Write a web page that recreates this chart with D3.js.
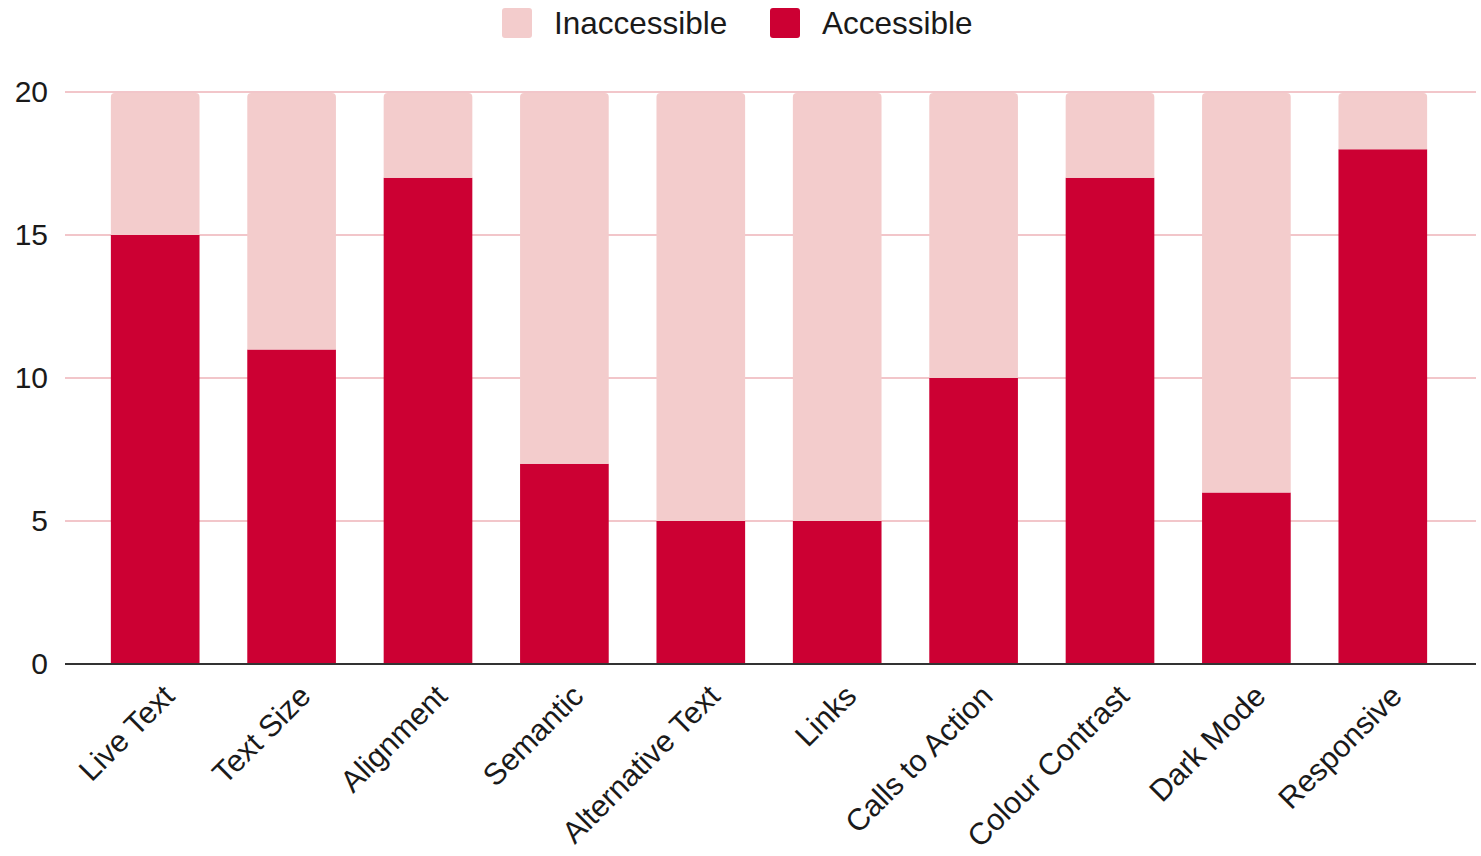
<!DOCTYPE html>
<html>
<head>
<meta charset="utf-8">
<script src="https://cdn.jsdelivr.net/npm/d3@7"></script>
<style>
  html, body { margin: 0; padding: 0; background: #fff; }
  svg { display: block; font-family: "Liberation Sans", Arial, sans-serif; }
</style>
</head>
<body>
<svg id="chart" width="1481" height="856"></svg>
<script>
// Accessibility audit results per criterion (out of 20 emails)
const categories = ["Live Text", "Text Size", "Alignment", "Semantic", "Alternative Text",
                    "Links", "Calls to Action", "Colour Contrast", "Dark Mode", "Responsive"];
const accessible = [15, 11, 17, 7, 5, 5, 10, 17, 6, 18];
const inaccessible = [5, 9, 3, 13, 15, 15, 10, 3, 14, 2];
const yTicks = [0, 5, 10, 15, 20];
const seriesNames = ["Inaccessible", "Accessible"];

const colors = { Accessible: "#cc0033", Inaccessible: "#f3cccc" };

const svg = d3.select("#chart");

const x = d3.scaleBand()
  .domain(categories)
  .range([87, 1451])
  .paddingInner(0.35)
  .paddingOuter(0.175);

const y = d3.scaleLinear().domain([0, 20]).range([664, 92]);

const plotLeft = 65, plotRight = 1476;

// Horizontal gridlines
svg.append("g")
  .selectAll("line")
  .data(yTicks.filter(d => d > 0))
  .join("line")
  .attr("x1", plotLeft).attr("x2", plotRight)
  .attr("y1", d => y(d)).attr("y2", d => y(d))
  .attr("stroke", "#f2c6ca")
  .attr("stroke-width", 2);

// Stacked data
const rows = categories.map((c, i) => ({ cat: c, Accessible: accessible[i], Inaccessible: inaccessible[i] }));
const stack = d3.stack().keys(["Accessible", "Inaccessible"])(rows);

// Top segment path with rounded upper corners
function topRounded(x0, w, yTop, yBot, r) {
  return `M${x0},${yBot}V${yTop + r}Q${x0},${yTop} ${x0 + r},${yTop}H${x0 + w - r}Q${x0 + w},${yTop} ${x0 + w},${yTop + r}V${yBot}Z`;
}

const bars = svg.append("g");
stack.forEach(layer => {
  const key = layer.key;
  bars.append("g")
    .attr("fill", colors[key])
    .selectAll("path")
    .data(layer)
    .join("path")
    .attr("d", d => {
      const x0 = x(d.data.cat), w = x.bandwidth();
      const yTop = y(d[1]) + (key === "Inaccessible" ? 1 : 0), yBot = y(d[0]);
      const r = key === "Inaccessible" ? 4 : 0;
      return topRounded(x0, w, yTop, yBot, r);
    });
});

// Baseline
svg.append("line")
  .attr("x1", plotLeft).attr("x2", plotRight)
  .attr("y1", y(0)).attr("y2", y(0))
  .attr("stroke", "#333")
  .attr("stroke-width", 2);

// Y axis labels
const yAxis = svg.append("g")
  .attr("transform", "translate(48,0)")
  .call(d3.axisLeft(y).tickValues(yTicks).tickSize(0).tickPadding(0));
yAxis.select(".domain").remove();
yAxis.selectAll("text")
  .attr("font-size", 30)
  .attr("fill", "#1a1a1a")
  .attr("font-family", "Liberation Sans, Arial, sans-serif");

// X axis labels, rotated
const xAxis = svg.append("g")
  .attr("transform", `translate(0,${y(0)})`)
  .call(d3.axisBottom(x).tickSize(0).tickPadding(0));
xAxis.select(".domain").remove();
xAxis.selectAll("text")
  .attr("font-size", 30.5)
  .attr("fill", "#1a1a1a")
  .attr("font-family", "Liberation Sans, Arial, sans-serif")
  .attr("text-anchor", "end")
  .attr("dy", null)
  .attr("y", null)
  .attr("transform", "translate(21,34) rotate(-45)");

// Legend
const legend = svg.append("g");
const legendItems = [
  { name: seriesNames[0], x: 502 },
  { name: seriesNames[1], x: 770 }
];
legendItems.forEach(it => {
  legend.append("rect")
    .attr("x", it.x).attr("y", 8)
    .attr("width", 30).attr("height", 30)
    .attr("rx", 3)
    .attr("fill", colors[it.name]);
  legend.append("text")
    .attr("x", it.x + 52).attr("y", 23)
    .attr("dy", "0.36em")
    .attr("font-size", 31.5)
    .attr("fill", "#1a1a1a")
    .text(it.name);
});
</script>
</body>
</html>
